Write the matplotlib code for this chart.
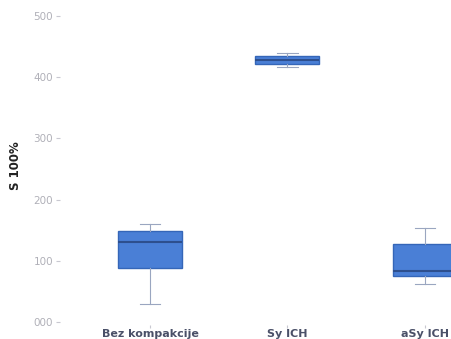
import matplotlib.pyplot as plt

# box statistics per group
groups = ["Bez kompakcije", "Sy ICH", "aSy ICH"]
whislo = [29, 417, 62]
q1 = [88, 422, 76]
med = [131, 428, 84]
q3 = [148, 435, 127]
whishi = [160, 440, 153]

yticks = [0, 100, 200, 300, 400, 500]
ytick_labels = ["000", "100", "200", "300", "400", "500"]

stats = []
for i, name in enumerate(groups):
    stats.append({"label": name, "whislo": whislo[i], "q1": q1[i], "med": med[i],
                  "q3": q3[i], "whishi": whishi[i], "fliers": []})

fig = plt.figure(figsize=(4.51, 3.39), dpi=100)
ax = fig.add_axes([0.133, 0.041, 0.867, 0.941])

ax.bxp(stats, positions=range(len(groups)), widths=0.465, patch_artist=True,
       showfliers=False,
       boxprops=dict(facecolor="#4a7fd6", edgecolor="#3566b8", linewidth=1.0),
       medianprops=dict(color="#2d4f8e", linewidth=1.5),
       whiskerprops=dict(color="#9aa6c0", linewidth=0.8),
       capprops=dict(color="#9aa6c0", linewidth=0.8),
       capwidths=0.15)

ax.set_xlim(-0.655, 2.19)
ax.set_ylim(-5, 516)
ax.set_yticks(yticks)
ax.set_yticklabels(ytick_labels)
ax.set_xticks(range(len(groups)))
ax.set_xticklabels(groups, fontsize=8, fontweight="bold", color="#4a5068")

ax.tick_params(axis="y", labelsize=7.5, labelcolor="#b0b0b8", color="#c8c8d0", length=3, pad=2)
ax.tick_params(axis="x", color="#c8c8d0", length=2, pad=1)

for s in ax.spines.values():
    s.set_visible(False)

ax.set_ylabel("S 100%", fontsize=8.5, fontweight="bold", color="#222222", labelpad=8)

fig.savefig("out.png", dpi=100)
